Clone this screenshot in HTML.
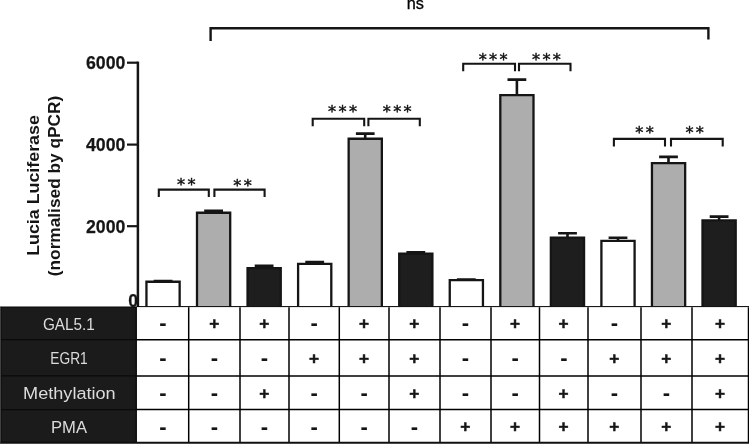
<!DOCTYPE html>
<html lang="en"><head><meta charset="utf-8"><title>Lucia Luciferase chart</title>
<style>
html,body{margin:0;padding:0;background:#fff;}
body{width:749px;height:444px;overflow:hidden;position:relative;}
svg{position:absolute;left:0;top:0;display:block;}
text{font-family:"Liberation Sans",sans-serif;fill:#151515;}
.tick{font-weight:bold;font-size:17.7px;text-anchor:end;stroke:#1c1c1c;stroke-width:0.25px;}
.ylab{font-weight:bold;font-size:17px;text-anchor:start;}
.star{font-family:"DejaVu Sans","Liberation Sans",sans-serif;font-size:16.2px;text-anchor:middle;letter-spacing:2.3px;fill:#111;stroke:#111;stroke-width:0.45px;}
.rl{font-size:16.7px;fill:#dcdcdc;text-anchor:middle;}
.pm{font-weight:bold;text-anchor:middle;}
.p{font-size:17.2px;stroke:#1c1c1c;stroke-width:0.5px;}
.m{font-size:22px;}
</style></head><body>
<svg width="749" height="444" viewBox="0 0 749 444">
<rect x="0" y="0" width="749" height="444" fill="#fff"/>
<text x="415.4" y="9.0" style="font-size:16.3px;text-anchor:middle;fill:#000;stroke:#000;stroke-width:0.3px">ns</text>
<path d="M210.6 41 V28.2 H708.4 V39.6" fill="none" stroke="#151515" stroke-width="2.4"/>
<path d="M153.7 281.1 H172.5 M163.1 281.1 V281.6" fill="none" stroke="#151515" stroke-width="2.6"/>
<path d="M146.45 306.30 V281.75 H179.65 V306.30" fill="#ffffff" stroke="#151515" stroke-width="2.3"/>
<path d="M204.2 210.8 H223.0 M213.6 210.8 V212.6" fill="none" stroke="#151515" stroke-width="2.6"/>
<path d="M197.00 306.30 V212.75 H230.20 V306.30" fill="#adadad" stroke="#151515" stroke-width="2.3"/>
<path d="M254.7 265.8 H273.5 M264.1 265.8 V267.9" fill="none" stroke="#151515" stroke-width="2.6"/>
<path d="M247.55 306.30 V268.05 H280.75 V306.30" fill="#1e1e1e" stroke="#151515" stroke-width="2.3"/>
<path d="M305.3 262.0 H324.1 M314.7 262.0 V263.8" fill="none" stroke="#151515" stroke-width="2.6"/>
<path d="M298.10 306.30 V263.95 H331.30 V306.30" fill="#ffffff" stroke="#151515" stroke-width="2.3"/>
<path d="M355.9 133.6 H374.6 M365.2 133.6 V138.6" fill="none" stroke="#151515" stroke-width="2.6"/>
<path d="M348.65 306.30 V138.75 H381.85 V306.30" fill="#adadad" stroke="#151515" stroke-width="2.3"/>
<path d="M406.4 252.4 H425.2 M415.8 252.4 V253.5" fill="none" stroke="#151515" stroke-width="2.6"/>
<path d="M399.20 306.30 V253.65 H432.40 V306.30" fill="#1e1e1e" stroke="#151515" stroke-width="2.3"/>
<path d="M456.9 279.6 H475.7 M466.3 279.6 V280.0" fill="none" stroke="#151515" stroke-width="2.6"/>
<path d="M449.75 306.30 V280.15 H482.95 V306.30" fill="#ffffff" stroke="#151515" stroke-width="2.3"/>
<path d="M507.5 79.6 H526.3 M516.9 79.6 V94.9" fill="none" stroke="#151515" stroke-width="2.6"/>
<path d="M500.30 306.30 V95.05 H533.50 V306.30" fill="#adadad" stroke="#151515" stroke-width="2.3"/>
<path d="M558.1 233.3 H576.9 M567.5 233.3 V237.4" fill="none" stroke="#151515" stroke-width="2.6"/>
<path d="M550.85 306.30 V237.55 H584.05 V306.30" fill="#1e1e1e" stroke="#151515" stroke-width="2.3"/>
<path d="M608.6 237.7 H627.4 M618.0 237.7 V240.8" fill="none" stroke="#151515" stroke-width="2.6"/>
<path d="M601.40 306.30 V240.95 H634.60 V306.30" fill="#ffffff" stroke="#151515" stroke-width="2.3"/>
<path d="M659.1 156.9 H677.9 M668.5 156.9 V163.0" fill="none" stroke="#151515" stroke-width="2.6"/>
<path d="M651.95 306.30 V163.15 H685.15 V306.30" fill="#adadad" stroke="#151515" stroke-width="2.3"/>
<path d="M709.7 216.6 H728.5 M719.1 216.6 V220.3" fill="none" stroke="#151515" stroke-width="2.6"/>
<path d="M702.50 306.30 V220.45 H735.70 V306.30" fill="#1e1e1e" stroke="#151515" stroke-width="2.3"/>
<path d="M137.9 61.6 V307" fill="none" stroke="#151515" stroke-width="2.5"/>
<path d="M127 62.7 H138" fill="none" stroke="#151515" stroke-width="2.2"/>
<text class="tick" x="125.4" y="69.1">6000</text>
<path d="M127 144.6 H138" fill="none" stroke="#151515" stroke-width="2.2"/>
<text class="tick" x="125.4" y="151.0">4000</text>
<path d="M127 226.2 H138" fill="none" stroke="#151515" stroke-width="2.2"/>
<text class="tick" x="125.4" y="232.6">2000</text>
<text class="tick" x="138" y="307">0</text>
<text class="ylab" transform="translate(38.6 255.8) rotate(-90)" textLength="140.6" lengthAdjust="spacingAndGlyphs">Lucia Luciferase</text>
<text class="ylab" transform="translate(60.2 276.2) rotate(-90)" textLength="180.4" lengthAdjust="spacingAndGlyphs">(normalised by qPCR)</text>
<path d="M158.8 197.1 V189.6 H208.8 V197.1" fill="none" stroke="#151515" stroke-width="2.1"/>
<text class="star" x="187.5" y="189.5">**</text>
<path d="M214.4 197.1 V189.6 H264.6 V197.1" fill="none" stroke="#151515" stroke-width="2.1"/>
<text class="star" x="243.7" y="191.4">**</text>
<path d="M312.7 126.3 V118.7 H364.2 V126.3" fill="none" stroke="#151515" stroke-width="2.1"/>
<text class="star" x="343.7" y="117.0">***</text>
<path d="M368.4 126.3 V118.7 H419.8 V126.3" fill="none" stroke="#151515" stroke-width="2.1"/>
<text class="star" x="398.4" y="117.0">***</text>
<path d="M463.2 71.3 V63.7 H515.0 V71.3" fill="none" stroke="#151515" stroke-width="2.1"/>
<text class="star" x="494.3" y="65.0">***</text>
<path d="M519.0 71.3 V63.7 H570.5 V71.3" fill="none" stroke="#151515" stroke-width="2.1"/>
<text class="star" x="547.6" y="65.0">***</text>
<path d="M613.9 146.5 V138.9 H665.0 V146.5" fill="none" stroke="#151515" stroke-width="2.1"/>
<text class="star" x="645.7" y="138.2">**</text>
<path d="M671.0 146.5 V138.9 H722.7 V146.5" fill="none" stroke="#151515" stroke-width="2.1"/>
<text class="star" x="695.8" y="138.2">**</text>
<rect x="0" y="306.4" width="1.2" height="137.6" fill="#6a6a6a"/>
<rect x="1.2" y="307.1" width="135.1" height="135.3" fill="#1b1b1b" stroke="#050505" stroke-width="1.2"/>
<path d="M1 339.7 H136.8" stroke="#0a0a0a" stroke-width="1.2"/>
<path d="M1 375.9 H136.8" stroke="#0a0a0a" stroke-width="1.2"/>
<path d="M1 409.6 H136.8" stroke="#0a0a0a" stroke-width="1.2"/>
<path d="M136.8 306.6 H749" stroke="#000" stroke-width="1.0"/>
<path d="M136.8 339.7 H749" stroke="#000" stroke-width="1.5"/>
<path d="M136.8 375.9 H749" stroke="#000" stroke-width="1.5"/>
<path d="M136.8 409.6 H749" stroke="#000" stroke-width="1.5"/>
<path d="M137.0 307.2 V442.3" stroke="#000" stroke-width="0.0"/>
<path d="M188.7 307.2 V442.3" stroke="#000" stroke-width="1.5"/>
<path d="M240.0 307.2 V442.3" stroke="#000" stroke-width="1.5"/>
<path d="M289.0 307.2 V442.3" stroke="#000" stroke-width="1.5"/>
<path d="M339.3 307.2 V442.3" stroke="#000" stroke-width="1.5"/>
<path d="M389.0 307.2 V442.3" stroke="#000" stroke-width="1.5"/>
<path d="M440.0 307.2 V442.3" stroke="#000" stroke-width="1.5"/>
<path d="M491.0 307.2 V442.3" stroke="#000" stroke-width="1.5"/>
<path d="M539.5 307.2 V442.3" stroke="#000" stroke-width="1.5"/>
<path d="M588.0 307.2 V442.3" stroke="#000" stroke-width="1.5"/>
<path d="M641.0 307.2 V442.3" stroke="#000" stroke-width="1.5"/>
<path d="M692.0 307.2 V442.3" stroke="#000" stroke-width="1.5"/>
<path d="M748.5 307.2 V442.3" stroke="#000" stroke-width="1.5"/>
<path d="M0.6 442.4 H749" stroke="#101010" stroke-width="1.2"/>
<rect x="0" y="443" width="749" height="1" fill="#4a4a4a"/>
<text class="rl" x="68.9" y="330.0" textLength="52.0" lengthAdjust="spacingAndGlyphs">GAL5.1</text>
<text class="rl" x="69.0" y="364.2" textLength="37.4" lengthAdjust="spacingAndGlyphs">EGR1</text>
<text class="rl" x="69.4" y="399.4" textLength="92.6" lengthAdjust="spacingAndGlyphs">Methylation</text>
<text class="rl" x="69.0" y="432.6" textLength="36.0" lengthAdjust="spacingAndGlyphs">PMA</text>
<text class="pm m" x="162.8" y="330.4">-</text>
<text class="pm p" x="214.2" y="329.1">+</text>
<text class="pm p" x="264.3" y="329.1">+</text>
<text class="pm m" x="314.1" y="330.4">-</text>
<text class="pm p" x="363.9" y="329.1">+</text>
<text class="pm p" x="414.3" y="329.1">+</text>
<text class="pm m" x="465.5" y="330.4">-</text>
<text class="pm p" x="515.0" y="329.1">+</text>
<text class="pm p" x="563.5" y="329.1">+</text>
<text class="pm m" x="614.5" y="330.4">-</text>
<text class="pm p" x="666.3" y="329.1">+</text>
<text class="pm p" x="720.0" y="329.1">+</text>
<text class="pm m" x="162.8" y="365.3">-</text>
<text class="pm m" x="214.3" y="365.3">-</text>
<text class="pm m" x="264.5" y="365.3">-</text>
<text class="pm p" x="313.9" y="364.0">+</text>
<text class="pm p" x="363.9" y="364.0">+</text>
<text class="pm p" x="414.3" y="364.0">+</text>
<text class="pm m" x="465.5" y="365.3">-</text>
<text class="pm m" x="515.2" y="365.3">-</text>
<text class="pm m" x="563.8" y="365.3">-</text>
<text class="pm p" x="614.3" y="364.0">+</text>
<text class="pm p" x="666.3" y="364.0">+</text>
<text class="pm p" x="720.0" y="364.0">+</text>
<text class="pm m" x="162.8" y="399.9">-</text>
<text class="pm m" x="214.3" y="399.9">-</text>
<text class="pm p" x="264.3" y="398.6">+</text>
<text class="pm m" x="314.1" y="399.9">-</text>
<text class="pm m" x="364.1" y="399.9">-</text>
<text class="pm p" x="414.3" y="398.6">+</text>
<text class="pm m" x="465.5" y="399.9">-</text>
<text class="pm m" x="515.2" y="399.9">-</text>
<text class="pm p" x="563.5" y="398.6">+</text>
<text class="pm m" x="614.5" y="399.9">-</text>
<text class="pm m" x="666.5" y="399.9">-</text>
<text class="pm p" x="720.0" y="398.6">+</text>
<text class="pm m" x="162.8" y="433.5">-</text>
<text class="pm m" x="214.3" y="433.5">-</text>
<text class="pm m" x="264.5" y="433.5">-</text>
<text class="pm m" x="314.1" y="433.5">-</text>
<text class="pm m" x="364.1" y="433.5">-</text>
<text class="pm m" x="414.5" y="433.5">-</text>
<text class="pm p" x="465.3" y="432.2">+</text>
<text class="pm p" x="515.0" y="432.2">+</text>
<text class="pm p" x="563.5" y="432.2">+</text>
<text class="pm p" x="614.3" y="432.2">+</text>
<text class="pm p" x="666.3" y="432.2">+</text>
<text class="pm p" x="720.0" y="432.2">+</text>
</svg></body></html>
